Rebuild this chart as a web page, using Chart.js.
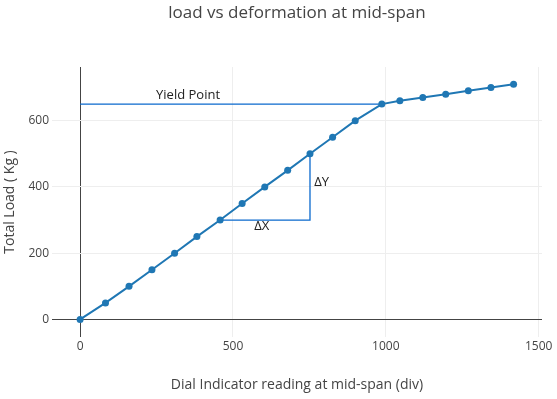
<!DOCTYPE html>
<html>
<head>
<meta charset="utf-8">
<script src="https://cdn.jsdelivr.net/npm/chart.js@4/dist/chart.umd.min.js"></script>
<style>
  html, body { margin: 0; padding: 0; background: #fff; }
  #wrap { width: 557px; height: 399px; position: relative; }
</style>
</head>
<body>
<div id="wrap"><canvas id="c" width="557" height="399"></canvas></div>
<script>
// ---- data ----
const deflection = [0, 83, 160, 235, 309, 382, 458, 530, 604, 679, 752, 826, 900, 987, 1046, 1121, 1196, 1270, 1344, 1418];
const load = [0, 50, 100, 150, 200, 250, 300, 350, 400, 450, 500, 550, 600, 650, 660, 670, 680, 690, 700, 710];
const yieldLineX = [0, 987];
const yieldLineY = [650, 650];
const slopeX = [458, 752, 752];
const slopeY = [300, 300, 500];
const xTicks = [0, 500, 1000, 1500];
const yTicks = [0, 200, 400, 600];
const annotations = [
  { text: 'Yield Point', x: 353, y: 665 },
  { text: '\u0394X', x: 594, y: 269 },
  { text: '\u0394Y', x: 790, y: 402 }
];
const chartTitle = 'load vs deformation at mid-span';
const xTitle = 'Dial Indicator reading at mid-span (div)';
const yTitle = 'Total Load ( Kg )';

const FONT = '"Open Sans", "Noto Sans", sans-serif';
const toPts = (xs, ys) => xs.map((x, i) => ({ x: x, y: ys[i] }));

const textPlugin = {
  id: 'texts',
  afterDraw(chart) {
    const ctx = chart.ctx;
    const ca = chart.chartArea;
    const xs = chart.scales.x, ys = chart.scales.y;
    const cx = (ca.left + ca.right) / 2;
    const cy = (ca.top + ca.bottom) / 2;
    ctx.save();
    ctx.fillStyle = '#444';
    ctx.textAlign = 'center';
    ctx.textBaseline = 'alphabetic';
    ctx.font = '17px ' + FONT;
    ctx.fillText(chartTitle, cx, 17.5);
    ctx.font = '14px ' + FONT;
    ctx.fillText(xTitle, cx, 389);
    ctx.save();
    ctx.translate(14, cy);
    ctx.rotate(-Math.PI / 2);
    ctx.fillText(yTitle, 0, 0);
    ctx.restore();
    ctx.fillStyle = '#222';
    ctx.font = '13px ' + FONT;
    annotations.forEach(a => {
      ctx.fillText(a.text, xs.getPixelForValue(a.x), ys.getPixelForValue(a.y));
    });
    ctx.restore();
  }
};

new Chart(document.getElementById('c'), {
  type: 'scatter',
  data: {
    datasets: [
      {
        label: 'load',
        data: toPts(deflection, load),
        showLine: true,
        borderColor: '#1f77b4',
        backgroundColor: '#1f77b4',
        borderWidth: 2,
        pointRadius: 3.5,
        pointBorderWidth: 0,
        order: 0
      },
      {
        label: 'yield',
        data: toPts(yieldLineX, yieldLineY),
        showLine: true,
        borderColor: 'rgb(10,105,205)',
        borderWidth: 1.3,
        pointRadius: 0,
        order: 1
      },
      {
        label: 'slope',
        data: toPts(slopeX, slopeY),
        showLine: true,
        borderColor: 'rgb(10,105,205)',
        borderWidth: 1.3,
        pointRadius: 0,
        order: 1
      }
    ]
  },
  options: {
    responsive: false,
    animation: false,
    devicePixelRatio: 1,
    layout: { padding: { top: 67, right: 15, left: 0, bottom: 0 } },
    plugins: {
      legend: { display: false },
      tooltip: { enabled: false },
      title: { display: false }
    },
    scales: {
      x: {
        type: 'linear',
        min: -92,
        max: 1511,
        afterBuildTicks: s => { s.ticks = xTicks.map(v => ({ value: v })); },
        afterFit: s => { s.height = 62; },
        border: { display: false },
        grid: {
          drawTicks: false,
          color: c => (c.tick && c.tick.value === 0) ? '#444' : '#eee',
          lineWidth: 1
        },
        ticks: { color: '#444', font: { family: FONT, size: 12 }, padding: 2, maxRotation: 0,
                 callback: v => String(v) }
      },
      y: {
        type: 'linear',
        min: -53,
        max: 762,
        afterBuildTicks: s => { s.ticks = yTicks.map(v => ({ value: v })); },
        afterFit: s => { s.width = 52; },
        border: { display: false },
        grid: {
          drawTicks: false,
          color: c => (c.tick && c.tick.value === 0) ? '#444' : '#eee',
          lineWidth: 1
        },
        ticks: { color: '#444', font: { family: FONT, size: 12 }, padding: 3,
                 callback: v => String(v) }
      }
    }
  },
  plugins: [textPlugin]
});
</script>
</body>
</html>
